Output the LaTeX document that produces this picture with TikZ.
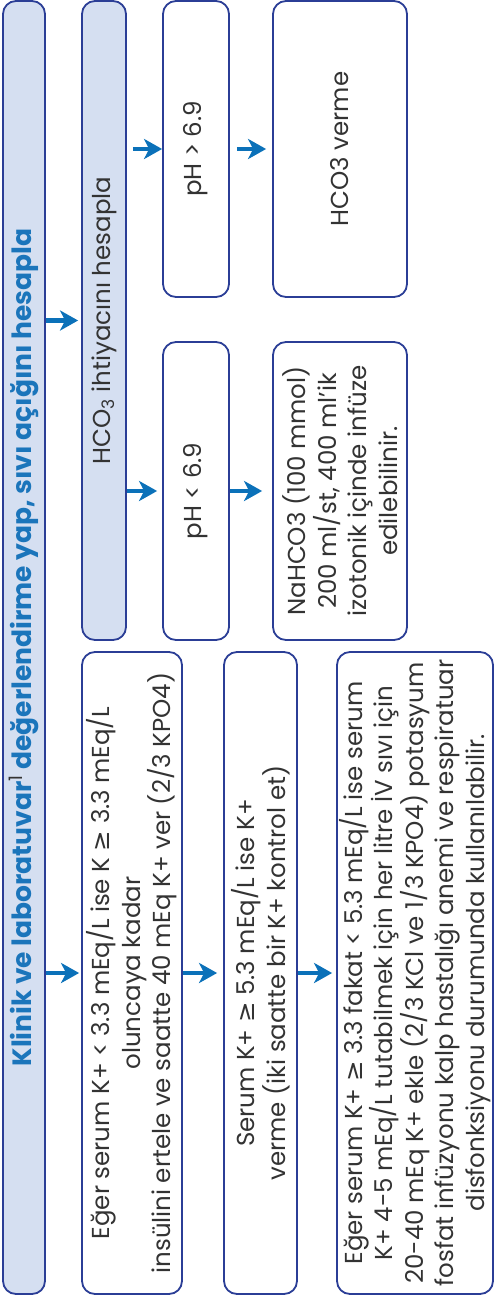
\documentclass[tikz,border=0pt]{standalone}
\usepackage{fontspec}
\setmainfont{Poppins}
\newfontfamily\symf{DejaVu Sans}
\usetikzlibrary{arrows.meta}
\definecolor{boxline}{HTML}{2B3E96}
\definecolor{boxfill}{HTML}{D5DFF1}
\definecolor{arrowblue}{HTML}{0B71B9}
\definecolor{titleblue}{HTML}{1B75BB}
\definecolor{txt}{HTML}{333333}
\newcommand\gesym{{\symf ≥}}
\begin{document}
\begin{tikzpicture}[x=1pt,y=-1pt,
  box/.style={draw=boxline, line width=1.8pt, rounded corners=13pt, rotate=90,
    inner sep=0pt, align=center, text=txt, font=\fontsize{24.5}{30.5}\selectfont},
  filled/.style={box, fill=boxfill},
  arr/.style={draw=arrowblue, line width=4.5pt,
    -{Stealth[length=18pt,width=20pt,inset=5pt]}}]
\useasboundingbox (0,0) rectangle (494,1301);

\node[filled, minimum width=1293pt, minimum height=42pt,
  font=\fontsize{26.5}{30}\selectfont\bfseries, text=titleblue]
  (main) at (24,647.5)
  {Klinik ve laboratuvar\textsuperscript{\mdseries\color{txt}1} değerlendirme yap, sıvı açığını hesapla};

\node[filled, minimum width=639pt, minimum height=44pt] (hco) at (104,320.5)
  {HCO\textsubscript{3} ihtiyacını hesapla};

\node[box, minimum width=296pt, minimum height=66pt] (phhi) at (196,149) {pH > 6.9};
\node[box, minimum width=296pt, minimum height=134pt] (verme) at (340,149) {HCO3 verme};
\node[box, minimum width=298pt, minimum height=66pt] (phlo) at (196,491) {pH < 6.9};
\node[box, minimum width=298pt, minimum height=134pt] (nahco) at (340,491)
  {NaHCO3 (100 mmol)\\200 ml/st, 400 ml’ik\\izotonik içinde infüze\\edilebilinir.};

\node[box, minimum width=642pt, minimum height=100pt] (k1) at (132,973)
  {Eğer serum K+ < 3.3 mEq/L ise K \gesym{} 3.3 mEq/L\\oluncaya kadar\\insülini ertele ve saatte 40 mEq K+ ver (2/3 KPO4)};
\node[box, minimum width=642pt, minimum height=73pt] (k2) at (260.5,973)
  {Serum K+ \gesym{} 5.3 mEq/L ise K+\\verme (iki saatte bir K+ kontrol et)};
\node[box, minimum width=642pt, minimum height=156pt] (k3) at (415,973)
  {Eğer serum K+ \gesym{} 3.3 fakat < 5.3 mEq/L ise serum\\K+ 4-5 mEq/L tutabilmek için her litre İV sıvı için\\20-40 mEq K+ ekle (2/3 KCl ve 1/3 KPO4) potasyum\\fosfat infüzyonu kalp hastalığı anemi ve respiratuar\\disfonksiyonu durumunda kullanılabilir.};

\draw[arr, shorten >=3pt] (main.south |- hco) -- (hco.north);
\draw[arr, shorten >=2pt] (main.south |- k1) -- (k1.north);
\draw[arr, shorten <=6pt] (hco.south |- phhi) -- (phhi.north);
\draw[arr, shorten >=5pt] (hco.south |- phlo) -- (phlo.north);
\draw[arr, shorten <=7pt, shorten >=6pt] (phhi.south |- verme) -- (verme.north);
\draw[arr, shorten >=10pt] (phlo.south |- nahco) -- (nahco.north);
\draw[arr, shorten >=6pt] (k1.south |- k2) -- (k2.north);
\draw[arr, shorten >=4pt] (k2.south |- k3) -- (k3.north);
\end{tikzpicture}
\end{document}
